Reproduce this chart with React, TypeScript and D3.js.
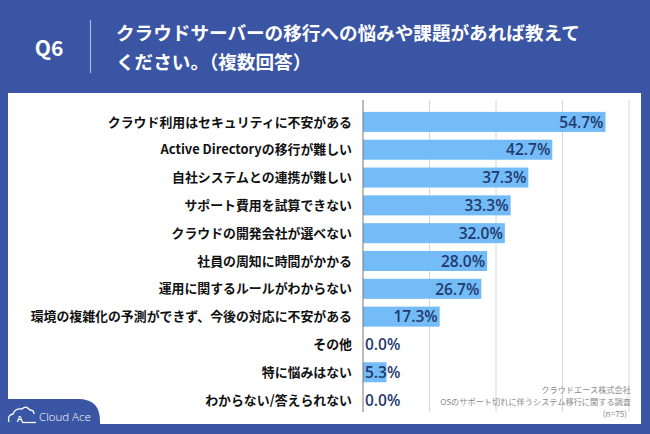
import React from "react";
import * as d3 from "d3";

const categories = [
  "クラウド利用はセキュリティに不安がある",
  "Active Directoryの移行が難しい",
  "自社システムとの連携が難しい",
  "サポート費用を試算できない",
  "クラウドの開発会社が選べない",
  "社員の周知に時間がかかる",
  "運用に関するルールがわからない",
  "環境の複雑化の予測ができず、今後の対応に不安がある",
  "その他",
  "特に悩みはない",
  "わからない/答えられない",
];
const values = [54.7, 42.7, 37.3, 33.3, 32.0, 28.0, 26.7, 17.3, 0.0, 5.3, 0.0];
const xTicks = [0, 15, 30, 45, 60];
const titleLines = ["クラウドサーバーの移行への悩みや課題があれば教えて", "ください。（複数回答）"];
const footLines = ["クラウドエース株式会社", "OSのサポート切れに伴うシステム移行に関する調査", "(n=75)"];

const W = 650;
const H = 434;
const BLUE = "#3a55a3";
const BAR = "#74bcf7";
const LABEL = "#1f3a6e";
const FONT = "'Noto Sans CJK JP', 'Noto Sans', sans-serif";

export default function App() {
  const x = d3.scaleLinear().domain([0, 60]).range([363, 629]);
  const y = d3
    .scaleBand<string>()
    .domain(categories)
    .range([108, 414])
    .paddingInner(0.28)
    .paddingOuter(0.14);

  const approxTextW = (s: string) => s.length * 9.1;

  return (
    <svg
      width={W}
      height={H}
      viewBox={`0 0 ${W} ${H}`}
      style={{ position: "absolute", left: 0, top: 0, display: "block" }}
    >
      <rect x={0} y={0} width={W} height={H} fill={BLUE} />
      <rect x={8} y={93} width={633} height={331} fill="#ffffff" />

      {/* header */}
      <text x={49} y={56} fill="#fff" fontFamily={FONT} fontWeight={700} fontSize={21} textAnchor="middle">
        Q6
      </text>
      <line x1={90.5} x2={90.5} y1={20} y2={73} stroke="#aab6dc" strokeWidth={1.2} />
      {titleLines.map((t, i) => (
        <text
          key={i}
          x={116}
          y={40 + i * 29}
          fill="#fff"
          fontFamily={FONT}
          fontWeight={700}
          fontSize={18.6}
        >
          {t}
        </text>
      ))}

      {/* gridlines */}
      {xTicks.slice(1).map((t) => (
        <line key={t} x1={x(t)} x2={x(t)} y1={100} y2={412} stroke="#d6d6d6" strokeWidth={1} />
      ))}

      {/* bars */}
      {categories.map((c, i) => (
        <rect
          key={c}
          x={x(0)}
          y={y(c)!}
          width={x(values[i]) - x(0)}
          height={y.bandwidth()}
          fill={BAR}
        />
      ))}
      <line x1={363} x2={363} y1={100} y2={412} stroke="#777" strokeWidth={1} />

      {/* category labels */}
      {categories.map((c) => (
        <text
          key={c}
          x={352}
          y={y(c)! + y.bandwidth() / 2}
          dy="0.36em"
          textAnchor="end"
          fill="#111"
          fontFamily={FONT}
          fontWeight={700}
          fontSize={12.9}
        >
          {c}
        </text>
      ))}

      {/* value labels */}
      {categories.map((c, i) => {
        const label = values[i].toFixed(1) + "%";
        const barW = x(values[i]) - x(0);
        const inside = barW > approxTextW(label) + 4;
        return (
          <text
            key={c}
            x={inside ? x(values[i]) - 2 : x(0) + 2}
            y={y(c)! + y.bandwidth() / 2}
            dy="0.37em"
            textAnchor={inside ? "end" : "start"}
            fill={LABEL}
            fontFamily="'Open Sans', 'Liberation Sans', sans-serif"
            fontWeight={600}
            fontSize={15.5}
          >
            {label}
          </text>
        );
      })}

      {/* footnote */}
      {footLines.map((t, i) => (
        <text
          key={i}
          x={i === 2 ? 627 : 631}
          y={393 + i * 12}
          textAnchor="end"
          fill="#8a8a8a"
          fontFamily={FONT}
          fontSize={8.2}
        >
          {t}
        </text>
      ))}

      {/* logo tab */}
      <path d="M0,399 L78,399 Q100,399 100,421 L100,434 L0,434 Z" fill={BLUE} />
      <g fill="none" stroke="#fff" strokeWidth={1.3}>
        <path d="M9,422 Q7,415 13,414 Q15,408 22,409 Q26,405 30,410 Q34,410 34,414" />
        <line x1={22} x2={36} y1={422.5} y2={422.5} />
      </g>
      <text x={16.5} y={422} fill="#fff" fontFamily="'Liberation Sans', sans-serif" fontSize={9} fontWeight={700}>
        A
      </text>
      <text x={39} y={420.5} fill="#fff" fontFamily="'Open Sans', sans-serif" fontWeight={300} fontSize={11.5}>
        Cloud Ace
      </text>
    </svg>
  );
}
